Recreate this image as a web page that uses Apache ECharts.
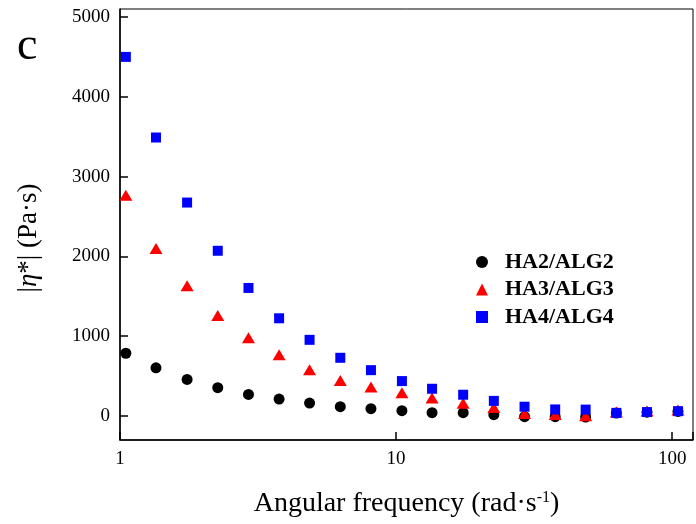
<!DOCTYPE html>
<html>
<head>
<meta charset="utf-8">
<script src="https://cdn.jsdelivr.net/npm/echarts@6/dist/echarts.min.js"></script>
<style>
  html, body { margin: 0; padding: 0; background: #fff; }
  #chart { width: 696px; height: 524px; }
</style>
</head>
<body>
<div id="chart"></div>
<script>
// angular frequency (rad/s)
var freq = [1.05, 1.35, 1.75, 2.26, 2.92, 3.77, 4.86, 6.28, 8.11, 10.5, 13.5, 17.5, 22.6, 29.2, 37.7, 48.6, 62.8, 81.1, 105];
// |eta*| (Pa.s)
var ha2 = [787, 605, 459, 355, 271, 213, 163, 117, 92, 67, 42, 42, 17, -8, -8, -12, 38, 48, 58];
var ha3 = [2767, 2100, 1634, 1259, 980, 767, 580, 446, 363, 292, 225, 160, 107, 32, 20, 5, 52, 63, 75];
var ha4 = [4500, 3490, 2675, 2071, 1605, 1225, 955, 730, 575, 438, 342, 267, 190, 117, 83, 81, 40, 50, 61];
var seriesNames = ["HA2/ALG2", "HA3/ALG3", "HA4/ALG4"];
var yTicks = [0, 1000, 2000, 3000, 4000, 5000];

var serif = "Liberation Serif";

function pairs(ys){
  var out = [];
  for (var i = 0; i < freq.length; i++){
    out.push([freq[i], ys[i]]);
  }
  return out;
}

var myChart = echarts.init(document.getElementById('chart'));

var option = {
  animation: false,
  backgroundColor: '#fff',
  grid: {
    left: 120, right: 1, top: 9, bottom: 84,
    show: true, borderColor: '#000', borderWidth: 1
  },
  graphic: [{
    type: 'text', left: 17, top: 24,
    style: { text: 'c', font: '46px "Liberation Serif"', fill: '#000' }
  }],
  legend: {
    orient: 'vertical',
    left: 471, top: 246,
    itemWidth: 12, itemHeight: 12, itemGap: 5.5,
    textStyle: { fontFamily: serif, fontWeight: 'bold', fontSize: 22, color: '#000', lineHeight: 22, padding: [0, 0, 0, 12] },
    data: [
      { name: seriesNames[0], icon: 'circle' },
      { name: seriesNames[1], icon: 'triangle' },
      { name: seriesNames[2], icon: 'rect' }
    ]
  },
  xAxis: {
    type: 'log', logBase: 10, min: 1, max: 119,
    name: 'Angular frequency (rad·s{sup|-1})',
    nameLocation: 'middle', nameGap: 50,
    nameTextStyle: {
      fontFamily: serif, fontSize: 28, color: '#000',
      rich: { sup: { fontFamily: serif, fontSize: 16, color: '#000', verticalAlign: 'top' } }
    },
    axisLine: { onZero: false, lineStyle: { color: '#000', width: 1.5 } },
    axisTick: { inside: true, length: 8, lineStyle: { color: '#000', width: 1.5 } },
    minorTick: { show: false },
    splitLine: { show: false },
    axisLabel: {
      fontFamily: serif, fontSize: 19, color: '#000', margin: 10,
      formatter: function(v){
        var l = Math.log10(v);
        return Math.abs(l - Math.round(l)) < 1e-6 ? String(Math.round(v)) : '';
      }
    }
  },
  yAxis: {
    type: 'value', min: -300, max: 5100,
    name: '|{i|η}*| (Pa·s)',
    nameLocation: 'middle', nameGap: 78,
    nameTextStyle: {
      fontFamily: serif, fontSize: 27, color: '#000', padding: [0, 27, 0, 0],
      rich: { i: { fontFamily: serif, fontSize: 27, fontStyle: 'italic', color: '#000' } }
    },
    axisLine: { show: true, onZero: false, lineStyle: { color: '#000', width: 1.5 } },
    axisTick: { inside: true, length: 8, customValues: yTicks, lineStyle: { color: '#000', width: 1.5 } },
    splitLine: { show: false },
    axisLabel: {
      customValues: yTicks, fontFamily: serif, fontSize: 19, color: '#000', margin: 10,
      formatter: function(v){ return String(v); }
    }
  },
  series: [
    { name: seriesNames[0], type: 'scatter', symbol: 'circle', symbolSize: 11,
      itemStyle: { color: '#000000', opacity: 1 }, data: pairs(ha2) },
    { name: seriesNames[1], type: 'scatter', symbol: 'triangle', symbolSize: [13, 11],
      itemStyle: { color: '#ff0000', opacity: 1 }, data: pairs(ha3) },
    { name: seriesNames[2], type: 'scatter', symbol: 'rect', symbolSize: 10,
      itemStyle: { color: '#0000ff', opacity: 1 }, data: pairs(ha4) }
  ]
};

myChart.setOption(option);
</script>
</body>
</html>
